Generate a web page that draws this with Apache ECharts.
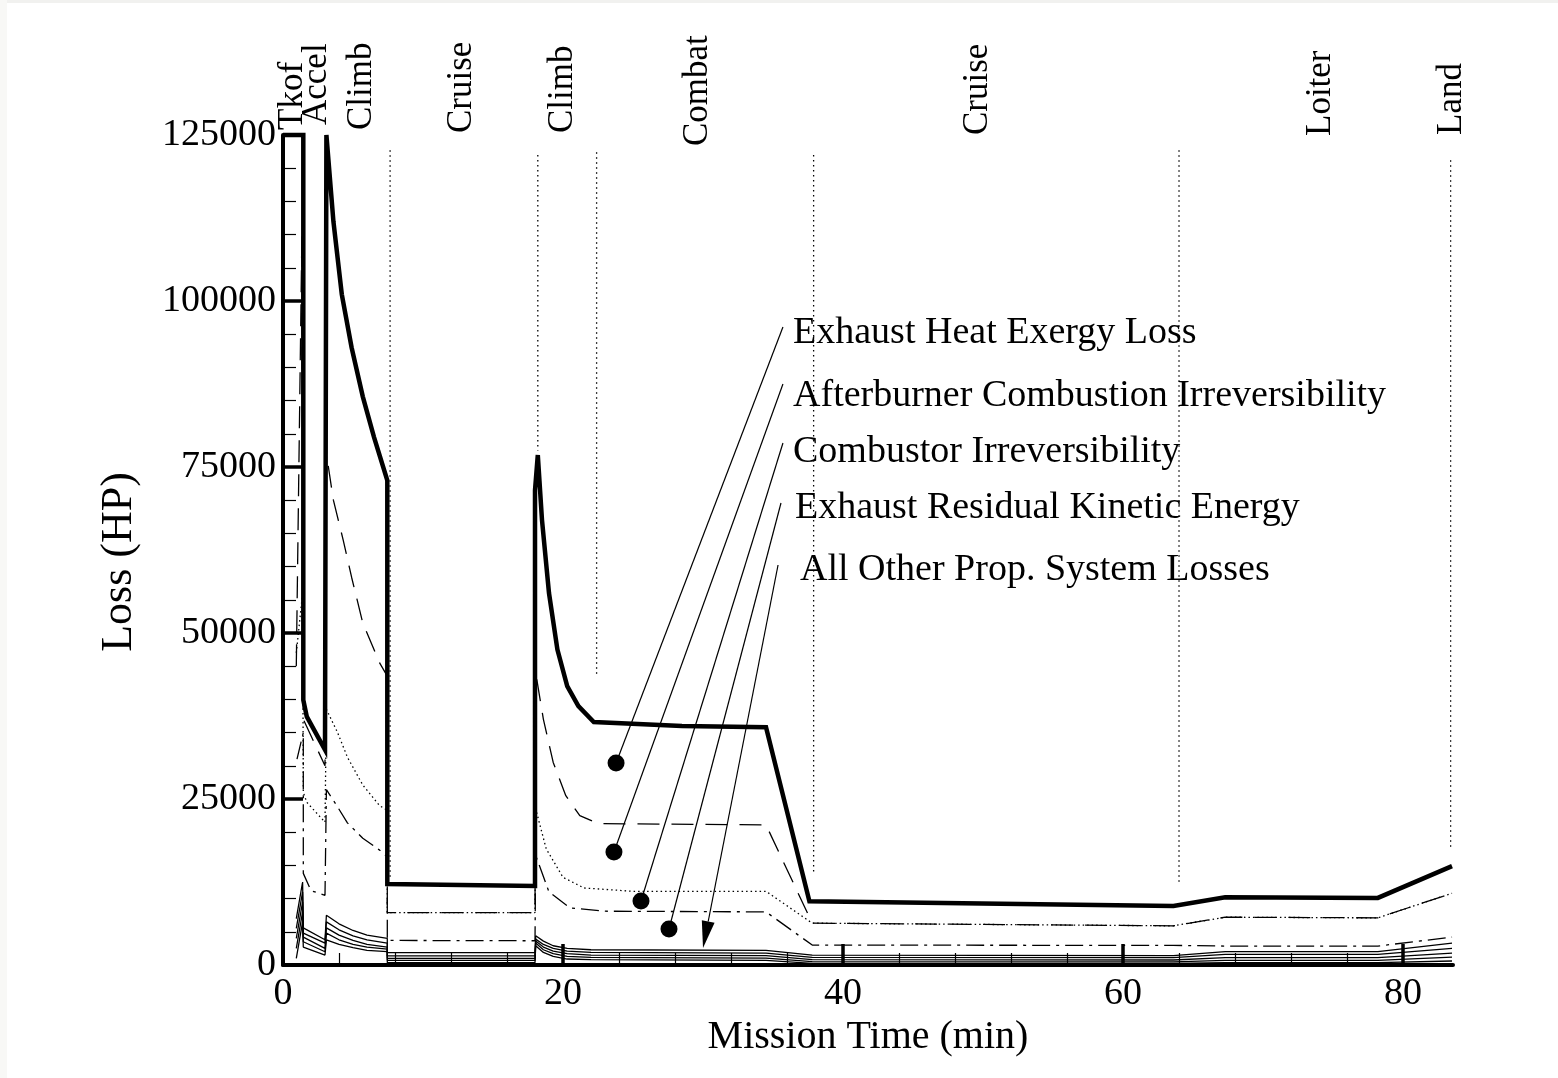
<!DOCTYPE html>
<html><head><meta charset="utf-8">
<script src="https://cdn.jsdelivr.net/npm/echarts@6/dist/echarts.min.js"></script>
<style>html,body{margin:0;padding:0;background:#fff}#c{width:1558px;height:1078px}</style>
</head><body><div id="c"></div>
<script>
// ---------------- DATA ----------------
const xMajorTicks = [0, 20, 40, 60, 80];
const xMinorTicks = [4, 8, 12, 16, 24, 28, 32, 36, 44, 48, 52, 56, 64, 68, 72, 76];
const yTickInterval = 25000;

const phaseNames = ['Tkof', 'Accel', 'Climb', 'Cruise', 'Climb', 'Combat', 'Cruise', 'Loiter', 'Land'];
const phaseLabelX = [0.68, 2.4, 5.64, 12.8, 20.0, 29.6, 49.6, 74.1, 83.5];

// phase boundary markers: x, from / to (HP)
const boundaryX    = [7.65, 18.2, 22.4, 37.9, 64.0, 83.4];
const boundaryTop  = [122700, 122000, 122400, 122000, 122700, 121200];
const boundaryBot  = [12800, 77500, 43500, 13800, 12000, 17800];

// cumulative loss curves [min, HP]
const totalLoss = [[0,125000],[1.45,125000],[1.45,39900],[1.7,37400],[3.0,32400],[3.1,125000],[3.6,112000],[4.2,101000],[4.9,93000],[5.7,85600],[6.5,79500],[7.45,73000],[7.45,12200],[18.0,11900],[18.0,71500],[18.2,76800],[18.5,67000],[19.0,56000],[19.6,47500],[20.3,42000],[21.1,39000],[22.2,36600],[28.5,36000],[34.5,35800],[37.6,9600],[63.6,8900],[67.3,10200],[78.2,10100],[83.5,14900]];

const belowExhaustHeat = [[0.95,45000],[1.35,110000],[1.45,37000],[3.0,30000],[3.1,77000],[3.6,70000],[4.3,64000],[4.9,58400],[5.7,51500],[6.9,45500],[7.45,43500],[7.45,7900],[18.0,7900],[18.05,44000],[18.6,37000],[19.3,30500],[20.2,25500],[21.2,22500],[22.5,21300],[34.5,21100],[37.8,6300],[63.6,5900],[67.3,7200],[78.2,7100],[83.5,10800]];

const belowAfterburner = [[0.95,47000],[1.4,56000],[1.45,26000],[1.7,24500],[3.0,21500],[3.1,38500],[3.9,35000],[4.6,31300],[5.7,27100],[6.9,24000],[7.45,23300],[7.45,7900],[18.0,7900],[18.05,23500],[18.8,17500],[20.0,13200],[21.5,11600],[25.0,11100],[34.5,11100],[37.8,6300],[63.6,5900],[67.3,7200],[78.2,7100],[83.5,10800]];

const belowCombustor = [[1.0,31000],[1.45,35000],[1.45,13800],[2.0,11200],[3.0,10500],[3.1,26400],[3.9,23800],[4.6,21400],[5.7,19100],[6.9,17300],[7.45,16300],[7.45,3700],[18.0,3650],[18.05,16500],[19.0,11000],[20.5,8600],[23.0,8100],[34.5,8000],[37.8,3000],[63.6,2950],[67.3,2850],[78.2,2850],[83.5,4200]];

// "all other" losses: five stacked component curves
const otherX = [0.95, 1.4, 1.45, 3.0, 3.1, 4.0, 5.0, 6.0, 7.45, 7.45, 18.0, 18.05, 18.6, 19.3, 20.3, 22.0, 34.5, 37.8, 63.6, 67.3, 78.2, 83.5];
const other1 = [7000, 12500, 5600, 3800, 7500, 6200, 5200, 4500, 4000, 1850, 1850, 4400, 3600, 2900, 2500, 2300, 2200, 1500, 1400, 2000, 2000, 3300];
const other2 = [5500, 11000, 4800, 3300, 6500, 5300, 4400, 3800, 3300, 1360, 1360, 3900, 3100, 2500, 2100, 1900, 1800, 1150, 1100, 1600, 1600, 2500];
const other3 = [4000, 9500, 4200, 2500, 5600, 4500, 3700, 3100, 2700, 1000, 1000, 3600, 2700, 2100, 1700, 1500, 1400, 800, 750, 1100, 1100, 1800];
const other4 = [2500, 8000, 3500, 2000, 4800, 3800, 3100, 2700, 2400, 700, 700, 3300, 2300, 1700, 1300, 1150, 1050, 500, 480, 700, 700, 1200];
const other5 = [1000, 6500, 2700, 1500, 3800, 3100, 2600, 2200, 2000, 350, 350, 2900, 1900, 1300, 900, 800, 700, 250, 250, 350, 350, 600];

// annotation labels
const annotationTexts = ['Exhaust Heat Exergy Loss', 'Afterburner Combustion Irreversibility', 'Combustor Irreversibility', 'Exhaust Residual Kinetic Energy', 'All Other Prop. System Losses'];

// ---------------- LAYOUT (not data) ----------------
const FONT = '"Liberation Serif", "Times New Roman", Times, serif';
const phaseLabelBottomPx = [130, 125, 130, 133, 133, 146, 135, 136, 135];
const annotationLayout = [
  {from: [35.71, 96080], to: [23.79, 30420], label: [36.43, 95180], end: 'dot'},
  {from: [35.71, 87500], to: [23.64, 17020], label: [36.43, 85690], end: 'dot'},
  {from: [35.71, 78610], to: [25.57, 9640],  label: [36.43, 77260], end: 'dot'},
  {from: [35.57, 69580], to: [27.57, 5420],  label: [36.57, 68830], end: 'dot'},
  {from: [35.36, 60240], to: [30.0, 2560],   label: [36.93, 59490], end: 'arrow'}
];

const chart = echarts.init(document.getElementById('c'), null, {renderer: 'canvas'});

const thin = 1.3;
const series = [];
boundaryX.forEach((bx, i) => {
  series.push({type: 'line', xAxisIndex: 0, yAxisIndex: 0, symbol: 'none', silent: true,
    data: [[bx, boundaryTop[i]], [bx, boundaryBot[i]]],
    lineStyle: {color: '#000', width: 1.3, type: [1.5, 3.5]}});
});
const zip = (ys) => otherX.map((x, i) => [x, ys[i]]);
[other1, other2, other3, other4, other5].forEach(ys => {
  series.push({type: 'line', symbol: 'none', silent: true, data: zip(ys),
    lineStyle: {color: '#000', width: thin}});
});
series.push({type: 'line', symbol: 'none', silent: true, data: belowCombustor,
  lineStyle: {color: '#000', width: thin, type: [18, 6, 3, 6]}});
series.push({type: 'line', symbol: 'none', silent: true, data: belowAfterburner,
  lineStyle: {color: '#000', width: thin, type: [1.5, 3]}});
series.push({type: 'line', symbol: 'none', silent: true, data: belowExhaustHeat,
  lineStyle: {color: '#000', width: thin, type: [22, 12]}});
series.push({type: 'line', symbol: 'none', silent: true, clip: false, data: totalLoss, z: 5,
  lineStyle: {color: '#000', width: 4.5, join: 'miter'}});

const option = {
  animation: false,
  backgroundColor: '#fff',
  grid: {left: 283, right: 105, top: 135, bottom: 113, containLabel: false},
  xAxis: [{
    type: 'value', min: 0, max: 83.57, position: 'bottom',
    axisLine: {show: true, onZero: false, lineStyle: {color: '#000', width: 4}},
    axisTick: {show: true, inside: true, length: 21, customValues: xMajorTicks, lineStyle: {color: '#000', width: 3.5}},
    axisLabel: {show: true, customValues: xMajorTicks, color: '#000', fontSize: 38, fontFamily: FONT, margin: 10},
    splitLine: {show: false},
    name: 'Mission Time (min)', nameLocation: 'middle', nameGap: 42,
    nameTextStyle: {color: '#000', fontSize: 40, fontFamily: FONT}
  }, {
    type: 'value', min: 0, max: 83.57, position: 'bottom',
    axisLine: {show: false},
    axisTick: {show: true, inside: true, length: 12, customValues: xMinorTicks, lineStyle: {color: '#000', width: 1.2}},
    axisLabel: {show: false},
    splitLine: {show: false}
  }],
  yAxis: {
    type: 'value', min: 0, max: 125000, interval: yTickInterval,
    axisLine: {show: true, onZero: false, lineStyle: {color: '#000', width: 4}},
    axisTick: {show: true, inside: true, length: 20, lineStyle: {color: '#000', width: 3.5}},
    minorTick: {show: true, splitNumber: 5, length: 13, lineStyle: {color: '#000', width: 1.2}},
    axisLabel: {color: '#000', fontSize: 38, fontFamily: FONT, margin: 7, formatter: (v) => String(v)},
    splitLine: {show: false},
    name: 'Loss (HP)', nameLocation: 'middle', nameGap: 142, nameRotate: 90,
    nameTextStyle: {color: '#000', fontSize: 44, fontFamily: FONT, padding: [0, 24, 0, 0]}
  },
  series: series
};
chart.setOption(option);

// ---------- annotations & phase labels via axis scales ----------
const P = (pt) => chart.convertToPixel({xAxisIndex: 0, yAxisIndex: 0}, pt);
const g = [];
g.push({type: 'rect', shape: {x: 0, y: 0, width: 1558, height: 3}, style: {fill: '#f1f1ef'}, silent: true});
g.push({type: 'rect', shape: {x: 0, y: 0, width: 7, height: 1078}, style: {fill: '#f8f8f6'}, silent: true});

phaseNames.forEach((name, i) => {
  const p = P([phaseLabelX[i], 0]);
  g.push({type: 'text', x: p[0], y: phaseLabelBottomPx[i], rotation: Math.PI / 2, silent: true,
    style: {text: name, fontSize: 35, fontFamily: FONT, fill: '#000', align: 'left', verticalAlign: 'middle'}});
});

annotationLayout.forEach((a, i) => {
  const f = P(a.from), t = P(a.to), l = P(a.label);
  if (a.end === 'dot') {
    g.push({type: 'line', shape: {x1: f[0], y1: f[1], x2: t[0], y2: t[1]}, style: {stroke: '#000', lineWidth: 1.2}, silent: true});
    g.push({type: 'circle', shape: {cx: t[0], cy: t[1], r: 8.5}, style: {fill: '#000'}, silent: true});
  } else {
    const dx = t[0] - f[0], dy = t[1] - f[1], len = Math.hypot(dx, dy);
    const ux = dx / len, uy = dy / len, nx = -uy, ny = ux;
    const bx = t[0] - ux * 27, by = t[1] - uy * 27;
    g.push({type: 'line', shape: {x1: f[0], y1: f[1], x2: bx, y2: by}, style: {stroke: '#000', lineWidth: 1.2}, silent: true});
    g.push({type: 'polygon', shape: {points: [[t[0], t[1]], [bx + nx * 6.5, by + ny * 6.5], [bx - nx * 6.5, by - ny * 6.5]]}, style: {fill: '#000'}, silent: true});
  }
  g.push({type: 'text', x: l[0], y: l[1], silent: true,
    style: {text: annotationTexts[i], fontSize: 38, fontFamily: FONT, fill: '#000', align: 'left', verticalAlign: 'middle'}});
});
chart.setOption({graphic: {elements: g}});
</script></body></html>
